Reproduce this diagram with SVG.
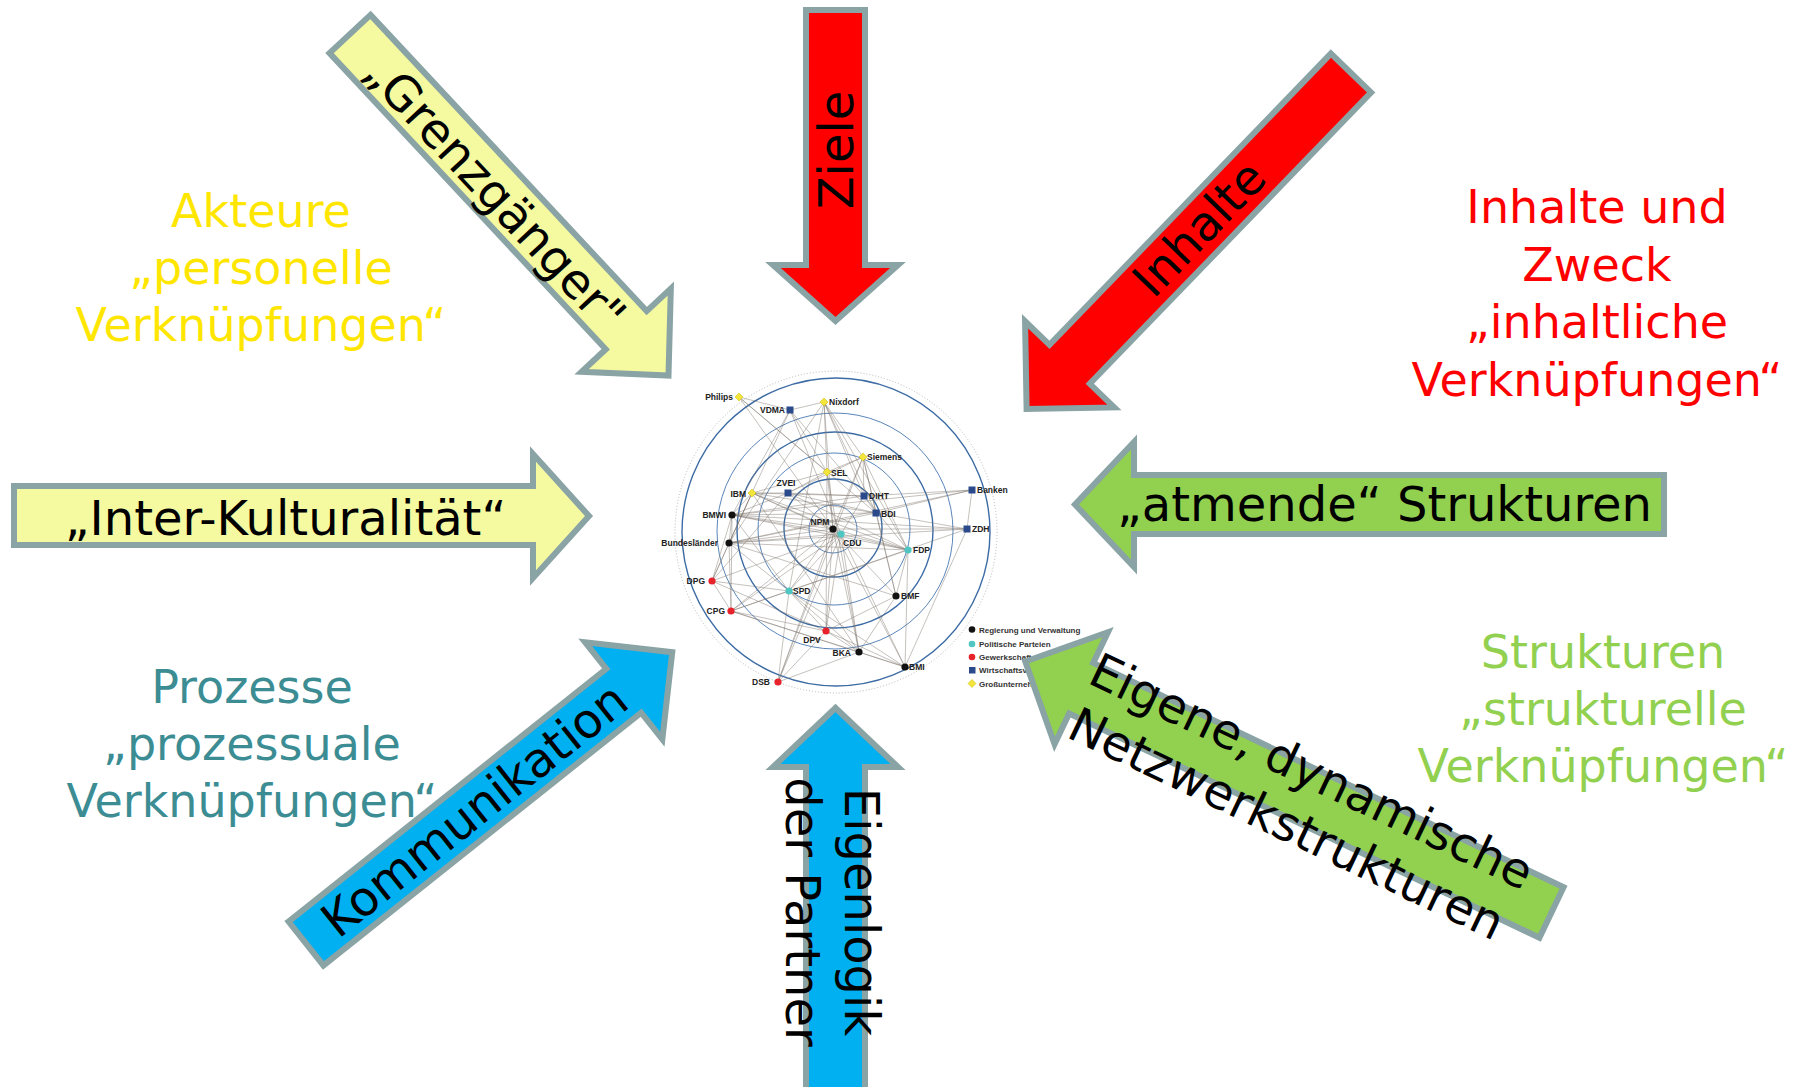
<svg xmlns="http://www.w3.org/2000/svg" width="1804" height="1087" viewBox="0 0 1804 1087">
<style>
.arrow{stroke:#8aa3a5;stroke-width:6;stroke-linejoin:miter;stroke-miterlimit:10}
.yel{fill:#f5f9a0}.red{fill:#ff0000}.grn{fill:#92d050}.blu{fill:#00b0f0}
.at{font-family:"DejaVu Sans","Liberation Sans",sans-serif;font-size:48px;fill:#000;text-anchor:middle}
.lbl{font-family:"DejaVu Sans","Liberation Sans",sans-serif;font-size:46px;text-anchor:middle}
.nl{font-family:"Liberation Sans",Arial,sans-serif;font-size:8.5px;font-weight:bold;fill:#222}
.lg{font-family:"Liberation Sans",Arial,sans-serif;font-size:8px;font-weight:bold;fill:#333}
.edge{stroke:#7d746c;stroke-width:0.6;fill:none;opacity:.75}
.ring{fill:none;stroke:#5a86ba;stroke-width:1}
.ringb{fill:none;stroke:#3d6ca5;stroke-width:1.4}
.gov{fill:#111}.par{fill:#4fc6c2}.uni{fill:#e8222a}.wir{fill:#2a4a8c}.gro{fill:#f4e53a;stroke:#c9b900;stroke-width:.5}
</style>
<defs>
<path id="dia" d="M0,-4L4,0L0,4L-4,0Z"/>
</defs>

<g id="label-akteure" class="lbl" fill="#ffe600">
<text x="261" y="227">Akteure</text>
<text x="261" y="284">„personelle</text>
<text x="261" y="341">Verknüpfungen“</text>
</g>
<g id="label-inhalte" class="lbl" fill="#ff0000">
<text x="1597" y="223">Inhalte und</text>
<text x="1597" y="281">Zweck</text>
<text x="1597" y="338">„inhaltliche</text>
<text x="1597" y="396">Verknüpfungen“</text>
</g>
<g id="label-prozesse" class="lbl" fill="#3c8d93">
<text x="252" y="703">Prozesse</text>
<text x="252" y="760">„prozessuale</text>
<text x="252" y="817">Verknüpfungen“</text>
</g>
<g id="label-strukturen" class="lbl" fill="#92d050">
<text x="1603" y="668">Strukturen</text>
<text x="1603" y="725">„strukturelle</text>
<text x="1603" y="782">Verknüpfungen“</text>
</g>

<g id="network">
<circle cx="836" cy="532" r="161" fill="none" stroke="#b8b8b8" stroke-width="1" stroke-dasharray="1 2"/>
<circle class="ringb" cx="836" cy="532" r="154"/>
<circle class="ring" cx="835" cy="531" r="118"/>
<circle class="ringb" cx="835" cy="530" r="98"/>
<circle class="ring" cx="834" cy="529" r="76"/>
<circle class="ringb" cx="833" cy="528" r="49"/>
<circle class="ring" cx="833" cy="529" r="24"/>
<g id="connectors">
<path class="edge" d="M739 397L827 472M739 397L833 529M739 397L876 513M739 397L790 410M790 410L824 402M790 410L729 543M790 410L827 472M790 410L864 496M790 410L732 515M790 410L841 534M824 402L827 472M824 402L863 457M824 402L876 513M824 402L908 550M824 402L729 543M824 402L864 496M824 402L789 591M824 402L833 529M863 457L827 472M863 457L788 493M863 457L833 529M863 457L864 496M863 457L896 596M863 457L908 550M863 457L778 682M863 457L876 513M827 472L752 493M827 472L788 493M827 472L833 529M827 472L826 631M827 472L859 652M788 493L752 493M788 493L864 496M788 493L876 513M788 493L732 515M788 493L712 581M788 493L833 529M788 493L908 550M752 493L864 496M752 493L876 513M752 493L732 515M752 493L729 543M752 493L833 529M752 493L841 534M752 493L712 581M752 493L859 652M752 493L908 550M864 496L972 490M864 496L876 513M864 496L732 515M864 496L908 550M864 496L841 534M876 513L972 490M876 513L967 529M876 513L729 543M876 513L896 596M876 513L732 515M972 490L967 529M972 490L732 515M972 490L729 543M967 529L732 515M967 529L833 529M967 529L905 667M967 529L731 611M732 515L833 529M732 515L841 534M732 515L908 550M732 515L729 543M732 515L712 581M732 515L789 591M732 515L731 611M729 543L833 529M729 543L841 534M729 543L908 550M729 543L712 581M729 543L789 591M729 543L731 611M729 543L896 596M729 543L967 529M833 529L841 534M833 529L789 591M833 529L826 631M833 529L859 652M833 529L905 667M833 529L896 596M833 529L778 682M833 529L731 611M833 529L908 550M841 534L789 591M841 534L908 550M841 534L826 631M841 534L859 652M841 534L905 667M841 534L778 682M841 534L731 611M841 534L712 581M908 550L896 596M908 550L789 591M908 550L905 667M712 581L731 611M712 581L789 591M712 581L826 631M789 591L731 611M789 591L826 631M789 591L859 652M789 591L778 682M789 591L905 667M896 596L859 652M896 596L826 631M731 611L826 631M731 611L859 652M731 611L905 667M826 631L859 652M826 631L905 667M826 631L778 682M859 652L905 667M859 652L778 682"/>
</g>
<use href="#dia" class="gro" x="739" y="397"/><text class="nl" x="733" y="400" text-anchor="end">Philips</text>
<rect class="wir" x="786.5" y="406.5" width="7" height="7"/><text class="nl" x="785" y="413" text-anchor="end">VDMA</text>
<use href="#dia" class="gro" x="824" y="402"/><text class="nl" x="829" y="405">Nixdorf</text>
<use href="#dia" class="gro" x="863" y="457"/><text class="nl" x="867" y="460">Siemens</text>
<use href="#dia" class="gro" x="827" y="472"/><text class="nl" x="831" y="475.5">SEL</text>
<rect class="wir" x="784.5" y="489.5" width="7" height="7"/><text class="nl" x="786" y="486" text-anchor="middle">ZVEI</text>
<use href="#dia" class="gro" x="752" y="493"/><text class="nl" x="746" y="496.5" text-anchor="end">IBM</text>
<rect class="wir" x="860.5" y="492.5" width="7" height="7"/><text class="nl" x="869" y="499">DIHT</text>
<rect class="wir" x="872.5" y="509.5" width="7" height="7"/><text class="nl" x="881" y="516.5">BDI</text>
<rect class="wir" x="968.5" y="486.5" width="7" height="7"/><text class="nl" x="977" y="493">Banken</text>
<rect class="wir" x="963.5" y="525.5" width="7" height="7"/><text class="nl" x="972" y="532">ZDH</text>
<circle class="gov" cx="732" cy="515" r="3.6"/><text class="nl" x="726" y="518" text-anchor="end">BMWI</text>
<circle class="gov" cx="729" cy="543" r="3.6"/><text class="nl" x="718" y="546" text-anchor="end">Bundesländer</text>
<circle class="gov" cx="833" cy="529" r="3.6"/><text class="nl" x="820" y="525" text-anchor="middle">NPM</text>
<circle class="par" cx="841" cy="534" r="3.6"/><text class="nl" x="843" y="546">CDU</text>
<circle class="par" cx="908" cy="550" r="3.6"/><text class="nl" x="913" y="553">FDP</text>
<circle class="uni" cx="712" cy="581" r="3.6"/><text class="nl" x="705" y="584" text-anchor="end">DPG</text>
<circle class="par" cx="789" cy="591" r="3.6"/><text class="nl" x="793" y="594">SPD</text>
<circle class="gov" cx="896" cy="596" r="3.6"/><text class="nl" x="901" y="599">BMF</text>
<circle class="uni" cx="731" cy="611" r="3.6"/><text class="nl" x="725" y="614" text-anchor="end">CPG</text>
<circle class="uni" cx="826" cy="631" r="3.6"/><text class="nl" x="812" y="643" text-anchor="middle">DPV</text>
<circle class="gov" cx="859" cy="652" r="3.6"/><text class="nl" x="851" y="655.5" text-anchor="end">BKA</text>
<circle class="gov" cx="905" cy="667" r="3.6"/><text class="nl" x="909" y="670">BMI</text>
<circle class="uni" cx="778" cy="682" r="3.6"/><text class="nl" x="770" y="685" text-anchor="end">DSB</text>
<g id="legend">
<circle class="gov" cx="972" cy="629.5" r="3.3"/><text class="lg" x="979" y="632.5">Regierung und Verwaltung</text>
<circle class="par" cx="972" cy="644" r="3.3"/><text class="lg" x="979" y="647">Politische Parteien</text>
<circle class="uni" cx="972" cy="657" r="3.3"/><text class="lg" x="979" y="660">Gewerkschaften</text>
<rect class="wir" x="969" y="667" width="6.5" height="6.5"/><text class="lg" x="979" y="673">Wirtschaftsverbände</text>
<use href="#dia" class="gro" x="972" y="683.5"/><text class="lg" x="979" y="686.5">Großunternehmen</text>
</g>
</g>

<g id="arrow-grenzgaenger" transform="translate(350,34) rotate(47)">
<path class="arrow yel" d="M0,-28L405,-28L405,-61L467,0L405,61L405,28L0,28Z"/>
<text class="at" x="215" y="19">„Grenzgänger"</text>
</g>

<g id="arrow-ziele">
<path class="arrow red" d="M806,10L865,10L865,265L898,265L835.5,321L773,265L806,265Z"/>
<text class="at" x="853" y="150" transform="rotate(-90 853 150)">Ziele</text>
</g>

<g id="arrow-inhalte">
<path class="arrow red" transform="translate(1351,73) rotate(134)" d="M0,-28L405,-28L405,-62L467,0L405,62L405,28L0,28Z"/>
<text class="at" transform="translate(1200,229) rotate(-46)" x="0" y="16">Inhalte</text>
</g>

<g id="arrow-interkulturalitaet">
<path class="arrow yel" d="M14,486L533,486L533,454L589,516L533,578L533,545L14,545Z"/>
<text class="at" x="285.5" y="535">„Inter-Kulturalität“</text>
</g>

<g id="arrow-atmende">
<path class="arrow grn" d="M1664,475L1134,475L1134,442L1075,504.5L1134,567L1134,534L1664,534Z"/>
<text class="at" x="1384.5" y="521">„atmende“ Strukturen</text>
</g>

<g id="arrow-kommunikation" transform="translate(306,943.5) rotate(-38.5)">
<path class="arrow blu" d="M0,-28L406,-28L406,-62L468,0L406,62L406,28L0,28Z"/>
<text class="at" x="215" y="17">Kommunikation</text>
</g>

<g id="arrow-eigenlogik">
<path class="arrow blu" d="M806,1100L806,767L773,767L835.5,708L898,767L865,767L865,1100Z"/>
<g transform="translate(845,912) rotate(90)">
<text class="at" x="0" y="0">Eigenlogik</text>
<text class="at" x="0" y="59">der Partner</text>
</g>
</g>

<g id="arrow-netzwerk">
<path class="arrow grn" transform="translate(1551.5,912.5) rotate(205.5)" d="M0,-28L521,-28L521,-62L583,0L521,62L521,28L0,28Z"/>
<g transform="translate(1298,800) rotate(25.5)">
<text class="at" x="0" y="-15">Eigene, dynamische</text>
<text class="at" x="0" y="43">Netzwerkstrukturen</text>
</g>
</g>
</svg>
